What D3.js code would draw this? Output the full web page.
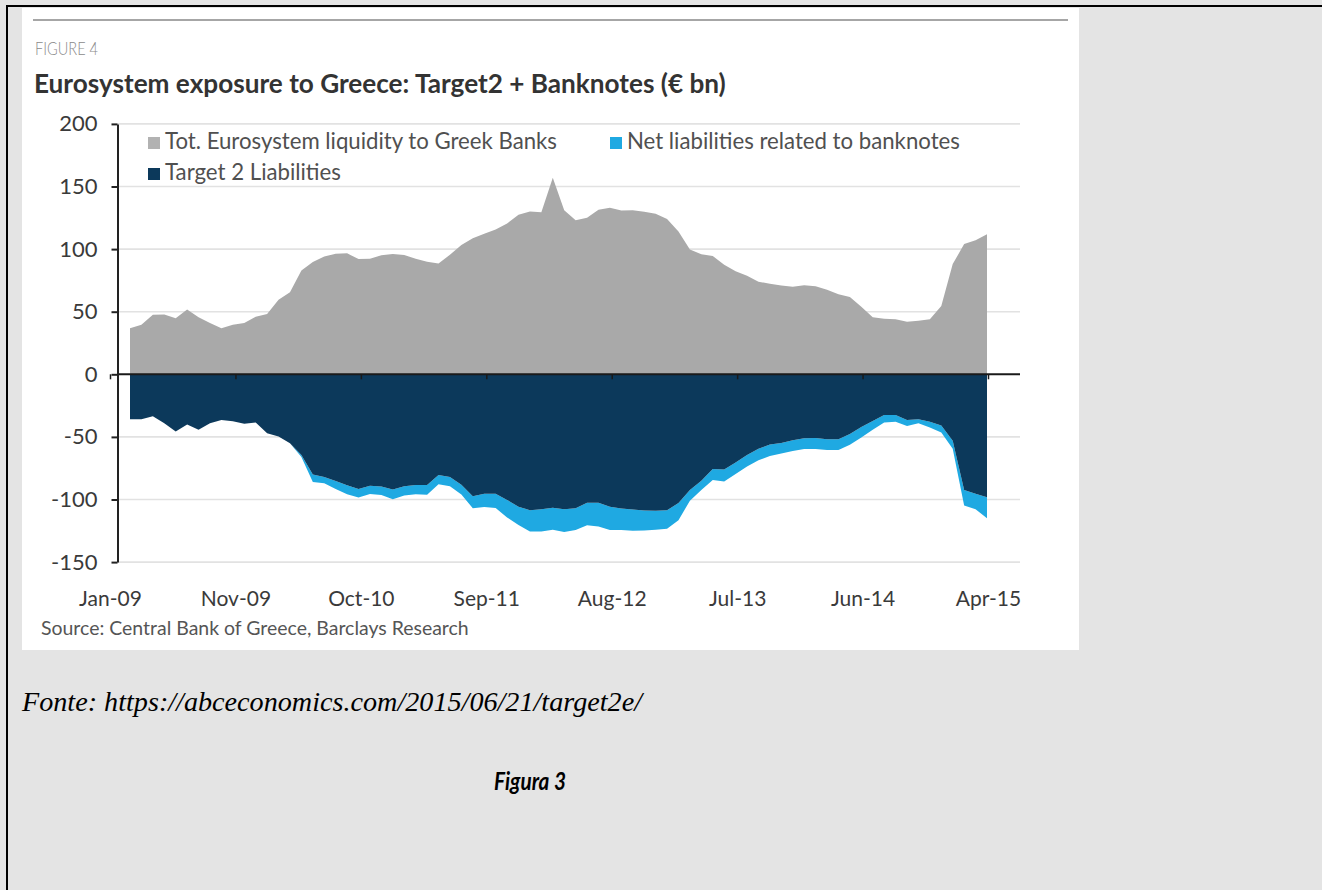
<!DOCTYPE html>
<html><head><meta charset="utf-8">
<script src="https://cdn.jsdelivr.net/npm/d3@7"></script>
<style>
html,body{margin:0;padding:0;background:#e4e4e4;overflow:hidden}
svg{display:block}
</style></head><body>
<svg id="c" width="1322" height="890"></svg>
<script>
// ---------- DATA ----------
const xLabels = ["Jan-09","Nov-09","Oct-10","Sep-11","Aug-12","Jul-13","Jun-14","Apr-15"];
const yTicks = [-150,-100,-50,0,50,100,150,200];
const seriesNames = ["Tot. Eurosystem liquidity to Greek Banks","Net liabilities related to banknotes","Target 2 Liabilities"];
// monthly, Jan-09 .. Apr-15 (EUR bn)
const liquidity = [36.7,39.5,47.5,47.8,44.7,51.8,45.5,41,36.8,39.5,
  41,46,48.2,59.5,65.5,83,89.7,94,96.3,96.6,
  92,92.3,95,96,95.3,92.2,89.8,88.5,95.5,103.3,
  108.7,112.2,115.6,120.5,127.5,130,129.5,157,131,123,
  125,131.5,133,130.8,131,129.8,128.3,124,114,99.7,
  95.9,94.5,87.6,82.4,78.7,74,72.3,71,70,71.2,
  70.4,67.6,63.9,61.7,54,45.6,44.3,44,42,42.8,
  43.9,54.5,88,104,107,111.8];
const target2 = [-36,-36,-33.5,-39,-45.6,-40,-44.3,-39,-36.5,-37.5,
  -39.5,-38.5,-47,-49.7,-55,-64.5,-80,-82,-85.3,-88.6,
  -91.7,-89,-89.7,-92,-89.5,-88.4,-88.4,-80.5,-82,-88.2,
  -97.5,-95.5,-95.5,-100.3,-105.7,-108.5,-107.7,-106.5,-107.7,-107,
  -102.5,-102.5,-105.8,-107.2,-108,-108.7,-109,-108.6,-102.7,-92.5,
  -85,-75.7,-76,-70.4,-64.4,-59.4,-56.1,-54.8,-52.6,-51,
  -50.9,-51.9,-51.9,-47.6,-42,-37.3,-32.5,-32.6,-36.5,-36,
  -37.9,-40.9,-53,-92.5,-95.5,-98.2];
const banknotes = [0,0,0,0,0,0,0,0,0,0,
  0,0,0,0,0,1.5,6,5,6.4,7.2,
  6.8,6.7,6.8,7.8,7.3,7.4,7.9,7.3,7.5,7.8,
  9.5,10.5,11.3,14,14.6,17,17.8,17.7,18.3,17.4,
  18,19,18.6,17.2,16.9,16.1,15.2,14.8,13.8,8.5,
  7.5,8.8,9.6,9.2,9.3,9.3,9.1,8.5,8.6,8.7,
  8.8,8.6,8.6,8.6,8.4,6.9,5.9,5.3,4.8,3.1,
  4.5,5.6,6.5,12.3,12.3,16.8];

// ---------- STYLE ----------
const C = {page:"#e4e4e4", gray:"#a9a9a9", grayKey:"#b2b2b2", navy:"#0c395b", blue:"#1fa9e2",
  grid:"#e2e2e2", text:"#3a3a3a", legend:"#505050"};
const FONT = "Lato, 'Open Sans', sans-serif";

const svg = d3.select("#c");
function fit(sel, w){ const n=sel.node(); const cur=n.getComputedTextLength(); const fs=parseFloat(sel.attr("font-size")); if(cur>0) sel.attr("font-size", (fs*w/cur).toFixed(2)); return sel; }

// page frame
svg.append("rect").attr("width",1322).attr("height",890).attr("fill",C.page);
svg.append("line").attr("x1",6).attr("x2",1322).attr("y1",6).attr("y2",6).attr("stroke","#000").attr("stroke-width",2);
svg.append("line").attr("x1",7).attr("x2",7).attr("y1",5).attr("y2",890).attr("stroke","#000").attr("stroke-width",2);
// white picture panel
svg.append("rect").attr("x",22).attr("y",8).attr("width",1057).attr("height",642).attr("fill","#fff");
svg.append("line").attr("x1",33).attr("x2",1068).attr("y1",20).attr("y2",20).attr("stroke","#a6a6a6").attr("stroke-width",2);

svg.append("text").attr("x",35).attr("y",55).attr("font-family",FONT).attr("font-weight",300)
  .attr("font-size",17).attr("fill","#8a8a8a").attr("textLength",63).attr("lengthAdjust","spacingAndGlyphs")
  .text("FIGURE 4");
fit(svg.append("text").attr("x",34).attr("y",93).attr("font-family",FONT).attr("font-weight",700)
  .attr("font-size",22).attr("fill","#333").text("Eurosystem exposure to Greece: Target2 + Banknotes (€ bn)"), 692);

// ---------- SCALES ----------
const x = d3.scaleLinear().domain([0, liquidity.length-1]).range([130, 987]);
const y = d3.scaleLinear().domain([-150, 200]).range([562.1, 123.9]);
const xl = d3.scalePoint().domain(xLabels).range([110, 988]);
const axisX = 117.5, gridEnd = 1020;

// gridlines
svg.append("g").selectAll("line").data(yTicks.filter(v=>v!==0)).join("line")
  .attr("x1",axisX).attr("x2",gridEnd).attr("y1",d=>y(d)).attr("y2",d=>y(d))
  .attr("stroke",C.grid).attr("stroke-width",1.6);

// areas
const idx = d3.range(liquidity.length);
svg.append("path").datum(idx).attr("fill",C.blue)
  .attr("d", d3.area().x(i=>x(i)).y0(i=>y(target2[i])).y1(i=>y(target2[i]-banknotes[i])));
svg.append("path").datum(idx).attr("fill",C.navy)
  .attr("d", d3.area().x(i=>x(i)).y0(y(0)).y1(i=>y(target2[i])));
svg.append("path").datum(idx).attr("fill",C.gray)
  .attr("d", d3.area().x(i=>x(i)).y0(y(0)).y1(i=>y(liquidity[i])));

// zero line + small ticks on it
svg.append("line").attr("x1",axisX).attr("x2",gridEnd).attr("y1",y(0)).attr("y2",y(0))
  .attr("stroke","#1a1a1a").attr("stroke-width",2);
const zt = svg.append("g").attr("transform",`translate(0,${y(0)})`)
  .call(d3.axisBottom(xl).tickSize(5).tickFormat(""));
zt.select(".domain").remove();
zt.selectAll("line").attr("stroke","#1a1a1a").attr("stroke-width",1.5);

// y axis
const ya = svg.append("g").attr("transform",`translate(${axisX},0)`)
  .call(d3.axisLeft(y).tickValues(yTicks).tickSize(6).tickSizeOuter(0).tickPadding(14).tickFormat(d=>String(d)));
ya.select(".domain").attr("stroke","#222").attr("stroke-width",2);
ya.selectAll(".tick line").attr("stroke","#222").attr("stroke-width",2);
ya.selectAll("text").attr("font-family",FONT).attr("font-size",22).attr("fill",C.text);

// x labels
const xa = svg.append("g").attr("transform","translate(0,606)")
  .call(d3.axisBottom(xl).tickSize(0).tickPadding(0));
xa.select(".domain").remove();
xa.selectAll("text").attr("y",0).attr("dy",null).attr("font-family",FONT).attr("font-size",21).attr("fill",C.text);

// legend
const lg = [
  {name:seriesNames[0], color:C.grayKey, x:148, y:137, w:392},
  {name:seriesNames[1], color:C.blue, x:610, y:137, w:333},
  {name:seriesNames[2], color:C.navy, x:148, y:168, w:176}
];
lg.forEach(d=>{
  svg.append("rect").attr("x",d.x).attr("y",d.y).attr("width",12).attr("height",12).attr("fill",d.color);
  fit(svg.append("text").attr("x",d.x+17).attr("y",d.y+12).attr("font-family",FONT).attr("font-size",20)
    .attr("fill",C.legend).text(d.name), d.w);
});

// source
fit(svg.append("text").attr("x",41).attr("y",635).attr("font-family",FONT).attr("font-size",17)
  .attr("fill","#555").text("Source: Central Bank of Greece, Barclays Research"), 428);

// captions below the picture
svg.append("text").attr("x",22).attr("y",711).attr("font-family","'Liberation Serif','DejaVu Serif',serif")
  .attr("font-style","italic").attr("font-size",28).attr("fill","#000")
  .attr("textLength",620).attr("lengthAdjust","spacingAndGlyphs")
  .text("Fonte: https://abceconomics.com/2015/06/21/target2e/");
svg.append("text").attr("x",530).attr("y",790).attr("text-anchor","middle").attr("font-family",FONT)
  .attr("font-style","italic").attr("font-weight",700).attr("font-size",24).attr("fill","#000")
  .attr("textLength",72).attr("lengthAdjust","spacingAndGlyphs")
  .text("Figura 3");
</script>
</body></html>
